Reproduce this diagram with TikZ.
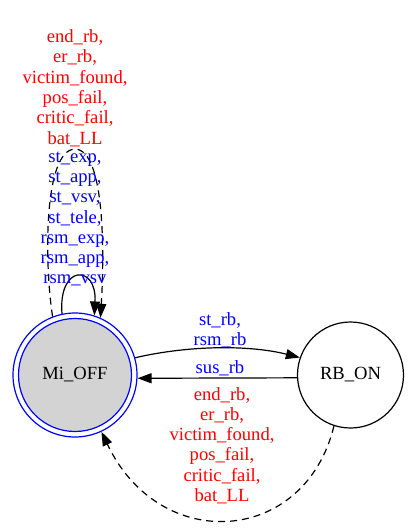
\documentclass[tikz,border=0pt]{standalone}
\usepackage{fontspec}
\setmainfont{Liberation Serif}
\usetikzlibrary{arrows.meta}
\definecolor{fillgray}{RGB}{211,211,211}
\begin{document}
\begin{tikzpicture}[x=1pt,y=-1pt,
  every node/.style={font=\fontsize{18.6}{20.3}\selectfont, inner sep=0pt, align=center},
  edge/.style={draw=black, line width=1.2pt, -{Triangle[length=14pt,width=10pt]}},
  dashedge/.style={edge, dash pattern=on 7pt off 5pt},
  lblred/.style={text=red},
  lblblue/.style={text=blue}]
\useasboundingbox (0,0) rectangle (408,528);
\node[circle, draw=blue, line width=1.2pt, fill=white, minimum size=124pt] (mi) at (75,375) {};
\node[circle, draw=blue, line width=1.2pt, fill=fillgray, minimum size=113pt] (miin) at (mi) {Mi\_OFF};
\node[circle, draw=black, line width=1.2pt, fill=white, minimum size=106pt] (rb) at (350.5,375) {RB\_ON};
% self loops
\draw[edge] (mi.102) .. controls (58,264) and (97,264) .. (mi.72);
\draw[dashedge] (mi.111) .. controls (44,260) and (44,150) .. (75,149) .. controls (106,150) and (104,260) .. (mi.66);
% between nodes
\draw[edge] (mi.16) .. controls (190,345) and (250,345) .. (rb.161);
\draw[edge] (rb.183) -- (mi.-3);
\draw[dashedge] (rb.252) .. controls (305,545) and (160,555) .. (mi.-65);
% labels
\node[lblred] (l1) at (75,88) {end\_rb,\\er\_rb,\\victim\_found,\\pos\_fail,\\critic\_fail,\\bat\_LL};
\node[lblblue] (l2) at (75,219) {st\_exp,\\st\_app,\\st\_vsv,\\st\_tele,\\rsm\_exp,\\rsm\_app,\\rsm\_vsv};
\node[lblblue] (l3) at (220,330) {st\_rb,\\rsm\_rb};
\node[lblblue] (l4) at (220,368) {sus\_rb};
\node[lblred] (l5) at (222,445.5) {end\_rb,\\er\_rb,\\victim\_found,\\pos\_fail,\\critic\_fail,\\bat\_LL};
\end{tikzpicture}
\end{document}
